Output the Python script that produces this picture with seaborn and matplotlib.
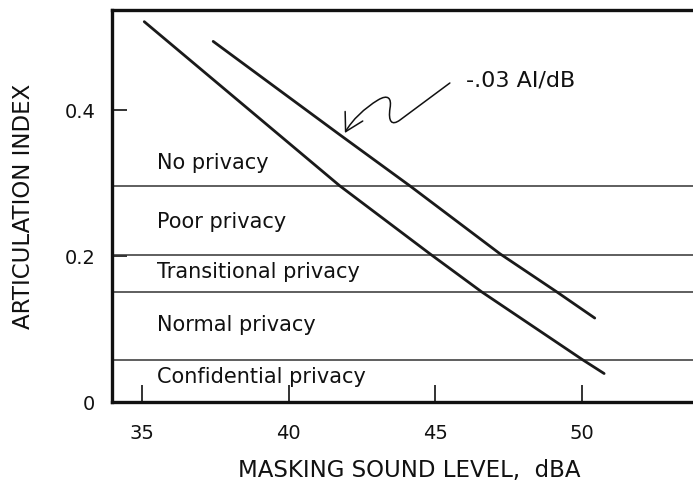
import matplotlib
matplotlib.use("Agg")
import matplotlib.pyplot as plt
from matplotlib.path import Path
from matplotlib.patches import FancyArrowPatch
import seaborn as sns
import pandas as pd

# ---- data ----
curve_a_x = [35.08, 41.75, 44.82, 46.58, 50.04, 50.76]
curve_a_y = [0.521, 0.296, 0.203, 0.151, 0.0575, 0.039]
curve_b_x = [37.43, 41.75, 44.14, 47.21, 49.14, 50.44]
curve_b_y = [0.494, 0.366, 0.296, 0.203, 0.151, 0.115]

band_bounds = [0.296, 0.202, 0.151, 0.0575]
band_labels = ["No privacy", "Poor privacy", "Transitional privacy",
               "Normal privacy", "Confidential privacy"]
band_label_y = [0.327, 0.247, 0.178, 0.1055, 0.034]

x_ticks = [35, 40, 45, 50]
y_ticks = [0, 0.2, 0.4]
y_tick_labels = ["0", "0.2", "0.4"]

slope_text = "-.03 AI/dB"

df = pd.DataFrame({
    "x": curve_a_x + curve_b_x,
    "y": curve_a_y + curve_b_y,
    "curve": ["a"] * len(curve_a_x) + ["b"] * len(curve_b_x),
})

sns.set_theme(style="white")
plt.rcParams["font.family"] = ["DejaVu Sans"]

fig = plt.figure(figsize=(6.93, 4.90), dpi=100)
ax = fig.add_axes([112 / 693, 1 - 402 / 490, 1 - 112 / 693, (402 - 10) / 490])

for yb in band_bounds:
    ax.axhline(yb, color="#333333", lw=1.1, zorder=1)

sns.lineplot(data=df, x="x", y="y", hue="curve", units="curve", estimator=None,
             palette={"a": "#1a1a1a", "b": "#1a1a1a"}, lw=2.0, legend=False,
             sort=False, ax=ax, zorder=3)

for lab, yl in zip(band_labels, band_label_y):
    ax.text(35.5, yl, lab, fontsize=15, va="center", ha="left", color="#111111")

# annotation arrow (wiggly)
verts = [(45.50, 0.4370), (43.80, 0.3863),
         (43.52, 0.3781), (43.39, 0.3836), (43.46, 0.4027),
         (43.52, 0.4164), (43.39, 0.4219), (43.05, 0.4137),
         (42.60, 0.4027), (42.16, 0.3863), (41.92, 0.3685)]
codes = [Path.MOVETO, Path.LINETO,
         Path.CURVE4, Path.CURVE4, Path.CURVE4,
         Path.CURVE4, Path.CURVE4, Path.CURVE4,
         Path.CURVE4, Path.CURVE4, Path.CURVE4]
arrow = FancyArrowPatch(path=Path(verts, codes), arrowstyle="->,head_length=0.7,head_width=0.4",
                        mutation_scale=18, lw=1.1, color="#111111", shrinkA=0, shrinkB=0)
ax.add_patch(arrow)
ax.text(46.04, 0.441, slope_text, fontsize=16, va="center", ha="left", color="#111111")

ax.set_xlim(33.98, 53.79)
ax.set_ylim(0, 0.537)
ax.set_xticks(x_ticks)
ax.set_xticklabels([str(t) for t in x_ticks])
ax.set_yticks(y_ticks)
ax.set_yticklabels(y_tick_labels)
ax.tick_params(axis="x", direction="in", length=12, width=1.2, pad=16,
               labelsize=14, colors="#111111", bottom=True)
ax.tick_params(axis="y", direction="in", length=11, width=1.2, pad=12,
               labelsize=14, colors="#111111", left=True)

for s in ["left", "top", "bottom"]:
    ax.spines[s].set_visible(True)
    ax.spines[s].set_linewidth(2.4)
    ax.spines[s].set_color("#111111")
ax.spines["right"].set_visible(False)

ax.set_xlabel("MASKING SOUND LEVEL,  dBA", fontsize=16.5, color="#111111")
ax.set_ylabel("ARTICULATION INDEX", fontsize=16.5, color="#111111")
ax.xaxis.label.set_va("center")
ax.yaxis.label.set_va("center")
ax.xaxis.set_label_coords((409 - 112) / (693 - 112), -(470 - 402) / 392)
ax.yaxis.set_label_coords(-(112 - 23) / (693 - 112), 0.5)

fig.savefig("out.png", dpi=100)
